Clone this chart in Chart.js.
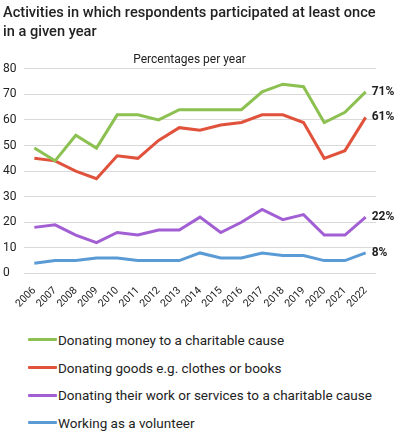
<!DOCTYPE html>
<html>
<head>
<meta charset="utf-8">
<script src="https://cdn.jsdelivr.net/npm/chart.js@4"></script>
<style>
  body { margin: 0; background: #fff; font-family: Roboto, sans-serif; }
  #wrap { position: relative; width: 397px; height: 313px; }
  #legend { margin: 13px 0 0 0; padding: 0 0 0 28px; list-style: none; }
  #legend li { display: flex; align-items: center; height: 27.7px; font-size: 13.5px; color: #222; }
  #legend span.swatch { display: inline-block; width: 29px; height: 3px; margin-right: 1px; border-radius: 1px; }
</style>
</head>
<body>
<div id="wrap"><canvas id="chart"></canvas></div>
<ul id="legend"></ul>
<script>
const years = ['2006', '2007', '2008', '2009', '2010', '2011', '2012', '2013', '2014',
  '2015', '2016', '2017', '2018', '2019', '2020', '2021', '2022'];
const seriesNames = [
  'Donating money to a charitable cause',
  'Donating goods e.g. clothes or books',
  'Donating their work or services to a charitable cause',
  'Working as a volunteer'
];
const money = [49, 44, 54, 49, 62, 62, 60, 64, 64, 64, 64, 71, 74, 73, 59, 63, 71];
const goods = [45, 44, 40, 37, 46, 45, 52, 57, 56, 58, 59, 62, 62, 59, 45, 48, 61];
const services = [18, 19, 15, 12, 16, 15, 17, 17, 22, 16, 20, 25, 21, 23, 15, 15, 22];
const volunteer = [4, 5, 5, 6, 6, 5, 5, 5, 8, 6, 6, 8, 7, 7, 5, 5, 8];
const yTicks = [0, 10, 20, 30, 40, 50, 60, 70, 80];
const colors = ['#8cc152', '#e0523c', '#a25fd3', '#5b9bd5'];

const seriesValues = [money, goods, services, volunteer];

// last value written to the right of each line
const endLabels = {
  id: 'endLabels',
  afterDatasetsDraw(chart) {
    const ctx = chart.ctx;
    ctx.save();
    ctx.font = 'bold 12px Roboto, sans-serif';
    ctx.fillStyle = '#222';
    ctx.textBaseline = 'middle';
    chart.data.datasets.forEach((ds, i) => {
      const pts = chart.getDatasetMeta(i).data;
      const last = pts[pts.length - 1];
      ctx.fillText(ds.data[ds.data.length - 1] + '%', last.x + 6, last.y);
    });
    ctx.restore();
  }
};

const chart = new Chart(document.getElementById('chart'), {
  type: 'line',
  data: {
    labels: years,
    datasets: seriesNames.map((name, i) => ({
      label: name,
      data: seriesValues[i],
      borderColor: colors[i],
      backgroundColor: colors[i],
      borderWidth: 3,
      pointRadius: 0,
      tension: 0,
      fill: false
    }))
  },
  options: {
    responsive: true,
    maintainAspectRatio: false,
    animation: false,
    layout: { padding: { left: 3, right: 21, top: 3, bottom: 0 } },
    plugins: {
      legend: { display: false },
      tooltip: { enabled: false },
      title: {
        display: true,
        text: ['Activities in which respondents participated at least once', 'in a given year'],
        align: 'start',
        color: '#222',
        font: { family: 'Roboto', size: 14.6, weight: '500', lineHeight: 1.35 },
        padding: { top: 0, bottom: 10 }
      },
      subtitle: {
        display: true,
        text: 'Percentages per year',
        color: '#222',
        font: { family: 'Roboto', size: 12 },
        padding: { top: 0, bottom: 2 }
      }
    },
    scales: {
      x: {
        offset: true,
        grid: { display: false },
        border: { display: false },
        ticks: {
          color: '#222',
          font: { family: 'Roboto', size: 10.5 },
          maxRotation: 45,
          minRotation: 45,
          autoSkip: false,
          padding: 3
        }
      },
      y: {
        min: 0,
        max: 80,
        afterBuildTicks: axis => { axis.ticks = yTicks.map(v => ({ value: v })); },
        afterFit: axis => { axis.width = 21; },
        grid: { color: '#d9d9d9', lineWidth: 1, drawTicks: false },
        border: { display: false },
        ticks: {
          color: '#222',
          font: { family: 'Roboto', size: 12 },
          crossAlign: 'far',
          padding: 4
        }
      }
    }
  },
  plugins: [endLabels]
});

const legend = document.getElementById('legend');
seriesNames.forEach((name, i) => {
  const li = document.createElement('li');
  const sw = document.createElement('span');
  sw.className = 'swatch';
  sw.style.background = colors[i];
  li.appendChild(sw);
  li.appendChild(document.createTextNode(name));
  legend.appendChild(li);
});
</script>
</body>
</html>
